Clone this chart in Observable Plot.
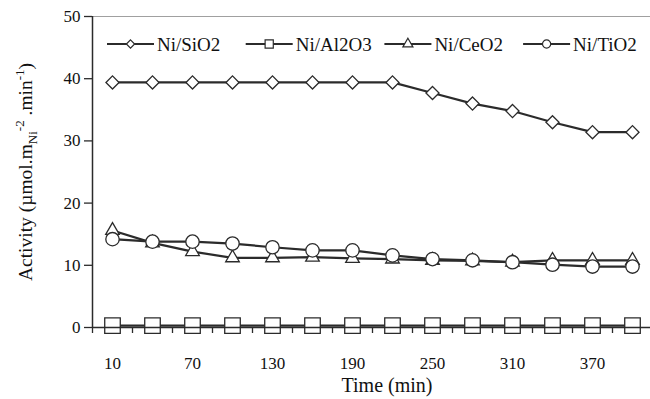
<!DOCTYPE html>
<html><head><meta charset="utf-8">
<script src="https://cdn.jsdelivr.net/npm/d3@7"></script>
<script src="https://cdn.jsdelivr.net/npm/@observablehq/plot@0.6"></script>
<style>
html,body{margin:0;padding:0;background:#fff;overflow:hidden;}
#chart{position:relative;width:650px;height:399px;}
</style></head><body><div id="chart"></div>
<script>
// ---- data ----
const times = [10, 40, 70, 100, 130, 160, 190, 220, 250, 280, 310, 340, 370, 400];
const tickLabels = [10, 70, 130, 190, 250, 310, 370];
const yTicks = [0, 10, 20, 30, 40, 50];
const seriesNames = ["Ni/SiO2", "Ni/Al2O3", "Ni/CeO2", "Ni/TiO2"];
const sio2  = [39.4, 39.4, 39.4, 39.4, 39.4, 39.4, 39.4, 39.4, 37.7, 36.0, 34.8, 33.0, 31.4, 31.4];
const al2o3 = [0.3, 0.3, 0.3, 0.3, 0.3, 0.3, 0.3, 0.3, 0.3, 0.3, 0.3, 0.3, 0.3, 0.3];
const ceo2  = [15.6, 13.6, 12.2, 11.2, 11.2, 11.3, 11.1, 11.0, 10.8, 10.7, 10.5, 10.8, 10.8, 10.8];
const tio2  = [14.2, 13.8, 13.8, 13.5, 12.9, 12.4, 12.4, 11.6, 11.0, 10.8, 10.5, 10.1, 9.8, 9.8];

// ---- styling ----
const valueArrays = [sio2, al2o3, ceo2, tio2];
const symbols = ["diamond2", "square2", "triangle2", "circle"];
const markerR = [5.9, 9.9, 6.5, 6.7];
const legendR = [3.7, 5.2, 4.8, 4.1];
const ink = "#2b2b2b";
const font = "'Liberation Serif', 'Times New Roman', serif";

const step = times[1] - times[0];
const bounds = times.map(t => t - step / 2).concat([times[times.length - 1] + step / 2]);

const marks = [Plot.ruleY([50], {stroke: "#a0a0a0", strokeWidth: 1})];
seriesNames.forEach((name, k) => {
  const d = times.map((t, i) => ({time: t, value: valueArrays[k][i], series: name}));
  marks.push(Plot.lineY(d, {x: "time", y: "value", stroke: ink, strokeWidth: 2.2}));
  marks.push(Plot.dot(d, {x: "time", y: "value", symbol: symbols[k], r: markerR[k],
    fill: "white", stroke: ink, strokeWidth: 1.3}));
});
marks.push(
  Plot.ruleX([bounds[0]], {stroke: ink, strokeWidth: 1.5}),
  Plot.ruleY([0], {stroke: ink, strokeWidth: 1.5}),
  Plot.axisY({ticks: yTicks, tickSize: 8, tickPadding: 4, fontSize: 17, label: null, stroke: ink, strokeWidth: 1.3}),
  Plot.axisX({ticks: bounds, tickSize: 6, tickFormat: () => "", label: null, stroke: ink, strokeWidth: 1.3}),
  Plot.axisX({ticks: tickLabels, tickSize: 0, tickPadding: 29, fontSize: 17, label: null})
);

const plot = Plot.plot({
  width: 650, height: 399,
  marginLeft: 92, marginRight: 0, marginTop: 16, marginBottom: 72,
  x: {domain: [bounds[0], bounds[bounds.length - 1]], range: [92, 652]},
  y: {domain: [0, 50]},
  style: {fontFamily: font, color: "#111", background: "white", overflow: "hidden"},
  marks
});

const svg = d3.select(plot);

// x-axis title
svg.append("text")
  .attr("x", 387).attr("y", 392)
  .attr("text-anchor", "middle")
  .attr("font-family", font).attr("font-size", 20).attr("fill", "#111")
  .text("Time (min)");

// y-axis title with sub/superscripts
const yt = svg.append("text")
  .attr("transform", "translate(32,172) rotate(-90)")
  .attr("text-anchor", "middle")
  .attr("font-family", font).attr("font-size", 19.5).attr("fill", "#111");
yt.append("tspan").text("Activity (µmol.m");
yt.append("tspan").attr("font-size", 13).attr("dy", 5).text("Ni");
yt.append("tspan").attr("font-size", 13).attr("dy", -13).text("-2");
yt.append("tspan").attr("dy", 8).text(" .min");
yt.append("tspan").attr("font-size", 13).attr("dy", -8).text("-1");
yt.append("tspan").attr("dy", 8).text(")");

// legend inside plot area
const d3Symbols = {diamond2: d3.symbolDiamond2, square2: d3.symbolSquare2, triangle2: d3.symbolTriangle2, circle: d3.symbolCircle};
const lg = svg.append("g").attr("font-family", font).attr("font-size", 19).attr("fill", "#111")
  .attr("text-anchor", "start");
seriesNames.forEach((name, k) => {
  const x0 = 107 + k * 138.7, yc = 44;
  const g = lg.append("g").attr("transform", `translate(${x0},${yc})`);
  g.append("line").attr("x1", 0).attr("x2", 47).attr("y1", 0).attr("y2", 0)
    .attr("stroke", ink).attr("stroke-width", 2.2);
  g.append("path").attr("transform", "translate(23.5,0)")
    .attr("d", d3.symbol(d3Symbols[symbols[k]], Math.PI * legendR[k] * legendR[k])())
    .attr("fill", "white").attr("stroke", ink).attr("stroke-width", 1.2);
  g.append("text").attr("x", 50).attr("y", 6.5).attr("text-anchor", "start").text(name);
});

document.getElementById("chart").appendChild(plot);
</script>
</body></html>
